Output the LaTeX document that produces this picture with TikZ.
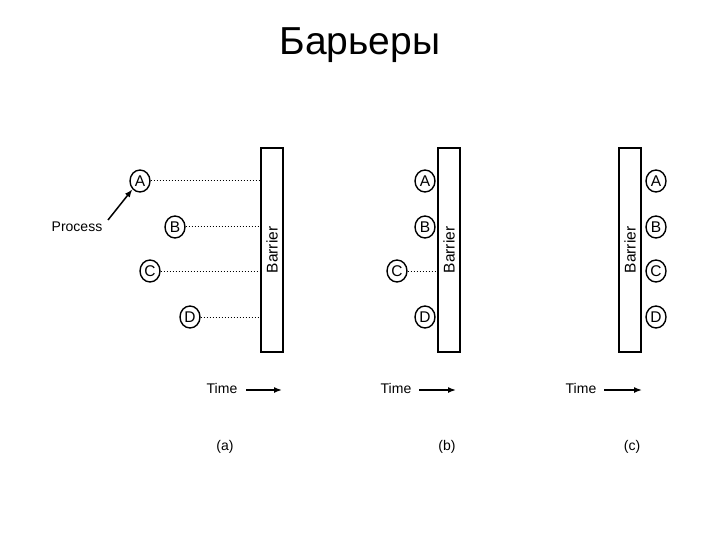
\documentclass[tikz,border=0pt]{standalone}
\usepackage{fontspec}
\setmainfont{Liberation Sans}
\usetikzlibrary{arrows.meta}
\tikzset{
	proc/.style={draw,ellipse,line width=1.4pt,inner sep=0pt,minimum width=20pt,minimum height=22pt,font=\fontsize{15.5}{16}\selectfont},
	barrier/.style={draw,line width=1.4pt,minimum width=22pt,minimum height=204pt,inner sep=0pt},
	wait/.style={dotted,line width=1pt},
	tarrow/.style={line width=1.5pt,-{Latex[length=8pt,width=6pt]}},
	lbl/.style={font=\fontsize{14}{15}\selectfont}
}
\usetikzlibrary{shapes.geometric}
\begin{document}
\begin{tikzpicture}[x=1pt,y=-1pt]
	\useasboundingbox (0,0) rectangle (720,540);
	
	\node[font=\fontsize{39}{40}\selectfont] (title) at (360,45){Барьеры};
	
	% (a)
	\node[barrier] (bara) at (272,250){};
	\node[rotate=90,lbl,font=\fontsize{15.5}{16}\selectfont] at (bara){Barrier};
	\node[proc] (aA) at (140,181){A};
	\node[proc] (aB) at (175,227){B};
	\node[proc] (aC) at (150,271){C};
	\node[proc] (aD) at (190,317){D};
	\draw[wait] (aA.east)--(aA.east -| bara.west);
	\draw[wait] (aB.east)--(aB.east -| bara.west);
	\draw[wait] (aC.east)--(aC.east -| bara.west);
	\draw[wait] (aD.east)--(aD.east -| bara.west);
	\node[lbl] (process) at (77,227){Process};
	\coordinate (sp) at (108,220);
	\draw[tarrow] (sp)--(aA.south west);
	\node[lbl] (timea) at (222,388){Time};
	\coordinate (sa) at (246,390);
	\coordinate (ea) at (282,390);
	\draw[tarrow] (sa)--(ea);
	\node[lbl] (capa) at (225,447){(a)};
	
	% (b)
	\node[barrier] (barb) at (449,250){};
	\node[rotate=90,lbl,font=\fontsize{15.5}{16}\selectfont] at (barb){Barrier};
	\node[proc] (bA) at (425,181){A};
	\node[proc] (bB) at (425,227){B};
	\node[proc] (bC) at (397,271){C};
	\node[proc] (bD) at (425,317){D};
	\draw[wait] (bC.east)--(bC.east -| barb.west);
	\node[lbl] (timeb) at (396,388){Time};
	\coordinate (sb) at (419,390);
	\coordinate (eb) at (456,390);
	\draw[tarrow] (sb)--(eb);
	\node[lbl] (capb) at (447,447){(b)};
	
	% (c)
	\node[barrier] (barc) at (630,250){};
	\node[rotate=90,lbl,font=\fontsize{15.5}{16}\selectfont] at (barc){Barrier};
	\node[proc] (cA) at (656,181){A};
	\node[proc] (cB) at (656,227){B};
	\node[proc] (cC) at (656,271){C};
	\node[proc] (cD) at (656,317){D};
	\node[lbl] (timec) at (581,388){Time};
	\coordinate (sc) at (604,390);
	\coordinate (ec) at (642,390);
	\draw[tarrow] (sc)--(ec);
	\node[lbl] (capc) at (632,447){(c)};
\end{tikzpicture}
\end{document}
